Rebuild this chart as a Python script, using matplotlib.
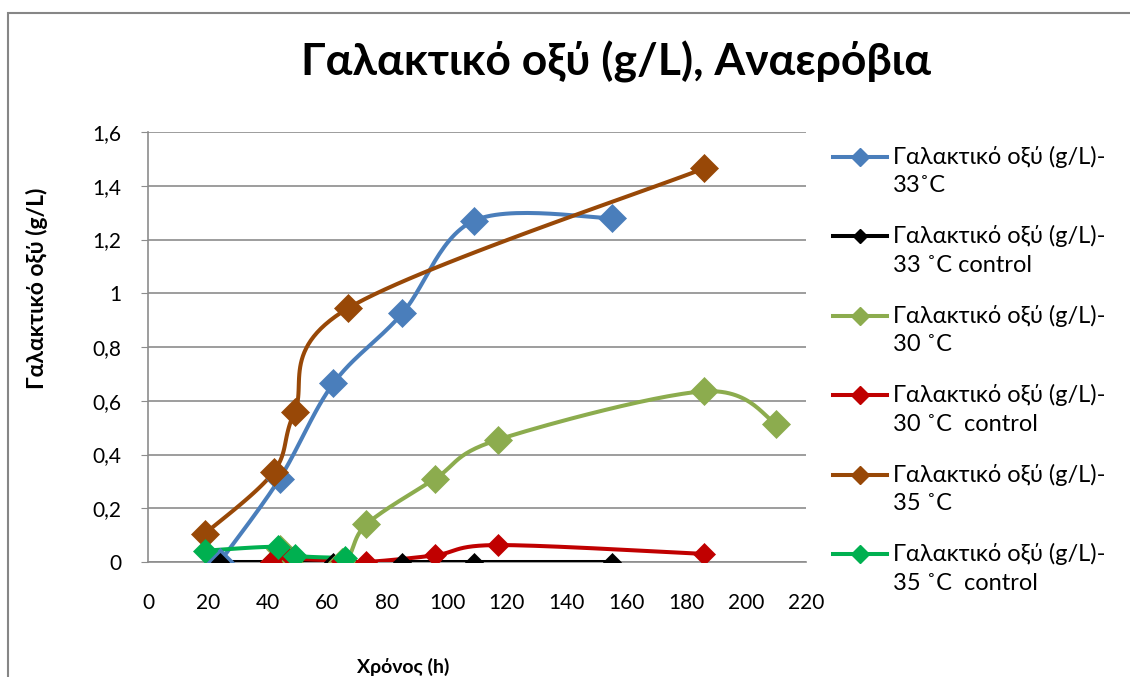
import numpy as np
import matplotlib
matplotlib.use("Agg")
import matplotlib.pyplot as plt
from matplotlib.lines import Line2D
from matplotlib.patches import Rectangle

# ---------------- data ----------------
title = "Γαλακτικό οξύ (g/L), Αναερόβια"
xlabel = "Χρόνος (h)"
ylabel = "Γαλακτικό οξύ (g/L)"

labels_l1 = ["Γαλακτικό οξύ (g/L)-"] * 6
labels_l2 = ["33˚C", "33 ˚C control", "30 ˚C", "30 ˚C  control", "35 ˚C", "35 ˚C  control"]

x_33 = [24, 44, 62, 85, 109, 155]
y_33 = [0.0, 0.31, 0.665, 0.925, 1.27, 1.28]

x_33c = [24, 44, 62, 85, 109, 155]
y_33c = [0.0, 0.0, 0.0, 0.0, 0.0, 0.0]

x_30 = [42, 44, 47, 65, 73, 96, 117, 186, 210]
y_30 = [0.0, 0.05, 0.0, 0.0, 0.14, 0.31, 0.455, 0.635, 0.515]

x_30c = [41, 44, 48, 65, 73, 96, 117, 186]
y_30c = [0.0, 0.045, 0.015, 0.005, 0.0, 0.025, 0.063, 0.03]

x_35 = [19, 42, 49, 67, 186]
y_35 = [0.105, 0.335, 0.558, 0.945, 1.465]

x_35c = [19, 43.5, 49, 66]
y_35c = [0.042, 0.056, 0.024, 0.015]

xticks = list(range(0, 221, 20))
yticks = [0, 0.2, 0.4, 0.6, 0.8, 1.0, 1.2, 1.4, 1.6]
ytick_labels = ["0", "0,2", "0,4", "0,6", "0,8", "1", "1,2", "1,4", "1,6"]

colors = ["#4A7EBB", "#000000", "#8CAC4E", "#C00000", "#984807", "#00B050"]
msizes = [14, 9, 14, 11, 14, 12]

series = [(x_33, y_33), (x_33c, y_33c), (x_30, y_30), (x_30c, y_30c), (x_35, y_35), (x_35c, y_35c)]

FONT = ["Lato", "Open Sans", "DejaVu Sans"]
plt.rcParams["font.family"] = FONT


def smooth(xs, ys, n=30):
    """Excel-style smoothed line (Catmull-Rom / cubic Bezier) through the points."""
    P = np.column_stack([xs, ys]).astype(float)
    if len(P) < 3:
        return P[:, 0], P[:, 1]
    ext = np.vstack([P[0], P, P[-1]])
    out = []
    t = np.linspace(0, 1, n)
    for i in range(1, len(ext) - 2):
        p0, p1, p2, p3 = ext[i - 1], ext[i], ext[i + 1], ext[i + 2]
        c1 = p1 + (p2 - p0) / 6.0
        c2 = p2 - (p3 - p1) / 6.0
        seg = ((1 - t)[:, None] ** 3) * p1 + 3 * ((1 - t)[:, None] ** 2) * t[:, None] * c1 \
            + 3 * (1 - t)[:, None] * (t[:, None] ** 2) * c2 + (t[:, None] ** 3) * p2
        out.append(seg if i == 1 else seg[1:])
    S = np.vstack(out)
    return S[:, 0], S[:, 1]


W, H = 1130, 677
fig = plt.figure(figsize=(W / 100, H / 100), dpi=100)

# chart-area border (top and left visible)
fig.add_artist(Rectangle((8 / W, -0.2), 1.5, (H - 13) / H + 0.2, transform=fig.transFigure,
                         fill=False, edgecolor="#868686", linewidth=1.5))

ax = fig.add_axes([148 / W, (H - 562) / H, (806 - 148) / W, (562 - 132) / H])

for (xs, ys), c, ms in zip(series, colors, msizes):
    sx, sy = smooth(xs, ys)
    ax.plot(sx, sy, color=c, linewidth=2.9, solid_capstyle="round", zorder=3)
    ax.plot(xs, ys, linestyle="none", marker="D", markersize=ms, color=c,
            markeredgecolor=c, markeredgewidth=0.5, zorder=4)

ax.set_xlim(0, 220)
ax.set_ylim(0, 1.6)
ax.set_xticks(xticks)
ax.set_yticks(yticks)
ax.set_yticklabels(ytick_labels)
ax.grid(axis="y", color="#8C8C8C", linewidth=1.2)
ax.set_axisbelow(True)
for s in ["top", "right"]:
    ax.spines[s].set_visible(False)
for s in ["left", "bottom"]:
    ax.spines[s].set_color("#8C8C8C")
    ax.spines[s].set_linewidth(1.2)
ax.tick_params(axis="x", length=0, pad=22, labelsize=15)
ax.tick_params(axis="y", length=5, color="#8C8C8C", pad=14, labelsize=15)

fig.text(616 / W, 1 - 62 / H, title, ha="center", va="center", fontsize=32, fontweight="bold")
fig.text(37 / W, 1 - 288 / H, ylabel, ha="center", va="center", rotation=90,
         fontsize=16.5, fontweight="bold")
fig.text(403 / W, 1 - 667 / H, xlabel, ha="center", va="center", fontsize=14, fontweight="bold")

# legend
y0 = 157
dy = 79.4
for i, c in enumerate(colors):
    yy = 1 - (y0 + i * dy) / H
    fig.add_artist(Line2D([833 / W, 887 / W], [yy, yy], transform=fig.transFigure,
                          color=c, linewidth=2.9))
    fig.add_artist(Line2D([860 / W], [yy], transform=fig.transFigure, marker="D",
                          markersize=9 if i != 1 else 7, color=c, linestyle="none"))
    fig.text(893 / W, yy, labels_l1[i], ha="left", va="center", fontsize=17)
    fig.text(893 / W, 1 - (y0 + i * dy + 29) / H, labels_l2[i], ha="left", va="center", fontsize=17)

fig.savefig("out.png", dpi=100)
